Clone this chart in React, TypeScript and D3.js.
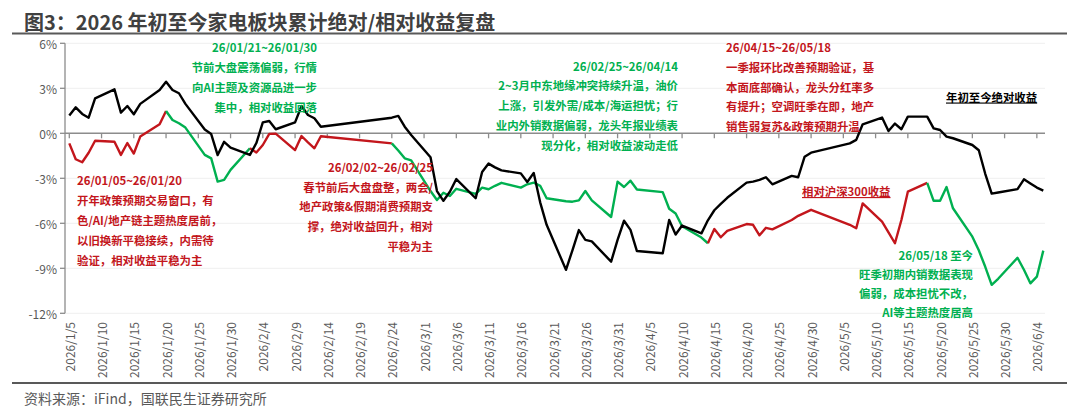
import React from 'react';
import * as d3 from 'd3';

const dates = [
  '2026-01-05','2026-01-06','2026-01-07','2026-01-08','2026-01-09','2026-01-12','2026-01-13','2026-01-14','2026-01-15','2026-01-16',
  '2026-01-19','2026-01-20','2026-01-21','2026-01-22','2026-01-23','2026-01-26','2026-01-27','2026-01-28','2026-01-29','2026-01-30',
  '2026-02-02','2026-02-03','2026-02-04','2026-02-05','2026-02-06','2026-02-09','2026-02-10','2026-02-11','2026-02-12','2026-02-13',
  '2026-02-24','2026-02-25','2026-02-26','2026-02-27',
  '2026-03-02','2026-03-03','2026-03-04','2026-03-05','2026-03-06','2026-03-09','2026-03-10','2026-03-11','2026-03-12','2026-03-13',
  '2026-03-16','2026-03-17','2026-03-18','2026-03-19','2026-03-20','2026-03-23','2026-03-24','2026-03-25','2026-03-26','2026-03-27',
  '2026-03-30','2026-03-31',
  '2026-04-01','2026-04-02','2026-04-03','2026-04-07','2026-04-08','2026-04-09','2026-04-10','2026-04-13','2026-04-14','2026-04-15',
  '2026-04-16','2026-04-17','2026-04-20','2026-04-21','2026-04-22','2026-04-23','2026-04-24','2026-04-27','2026-04-28','2026-04-29',
  '2026-04-30',
  '2026-05-06','2026-05-07','2026-05-08','2026-05-11','2026-05-12','2026-05-13','2026-05-14','2026-05-15','2026-05-18','2026-05-19',
  '2026-05-20','2026-05-21','2026-05-22','2026-05-25','2026-05-26','2026-05-27','2026-05-28','2026-05-29',
  '2026-06-01','2026-06-02','2026-06-03','2026-06-04','2026-06-05',
];

// 年初至今绝对收益 (%)
const absReturn = [
  1.18, 1.73, 1.29, 1.04, 2.33, 2.93, 1.38, 1.82, 1.27, 1.96,
  2.89, 3.44, 2.89, 2.67, 1.96, 0.25, -0.05, -1.45, -0.57, -0.96,
  -1.44, -0.65, 0.73, 0.82, 0.27, 0.73, 1.82, 1.22, 1.0, 0.44,
  1.04, 1.16, 0.44, -0.11,
  -1.6, -3.85, -4.5, -3.9, -3.05, -4.33, -2.58, -2.02, -2.27, -2.47,
  -2.67, -3.25, -2.64, -4.6, -6.1, -9.1, -7.8, -6.45, -7.1, -7.2,
  -8.56, -7.1,
  -5.83, -6.44, -7.85, -8.0, -5.78, -6.75, -6.15, -6.67, -5.8, -5.13,
  -4.7, -4.3, -3.29, -3.22, -3.11, -2.93, -3.4, -2.84, -2.93, -1.56,
  -1.29,
  -0.67, -0.44, 0.6, 1.05, 0.15, 0.65, 0.27, 1.11, 1.11, 0.33,
  0.22, -0.22, -0.33, -0.78, -1.13, -2.7, -4.02, -3.95,
  -3.72, -3.07, -3.35, -3.62, -3.82,
];

// 相对沪深300收益 (%)
const relReturn = [
  -0.67, -1.73, -1.93, -1.3, -0.5, -0.56, -1.44, -0.65, -1.35, -0.22,
  0.6, 1.49, 0.89, 0.67, 0.38, -1.44, -1.67, -3.22, -3.11, -2.44,
  -1.0, -1.28, -0.78, -0.04, -0.02, -1.12, -0.18, -0.6, -1.0, -0.2,
  -0.67, -1.15, -1.67, -1.8,
  -3.85, -4.45, -3.96, -4.18, -3.7, -4.04, -3.62, -3.73, -3.5, -3.3,
  -3.62, -3.4, -3.29, -3.5, -4.33, -4.53, -4.56, -4.47, -3.85, -4.47,
  -5.58, -3.22,
  -3.58, -3.16, -3.75, -3.92, -5.03, -5.35, -6.2, -6.95, -7.33, -6.38,
  -6.93, -6.5, -6.05, -6.1, -6.8, -6.3, -6.4, -5.78, -5.5, -5.3,
  -5.1,
  -6.1, -6.33, -4.67, -5.89, -6.6, -7.33, -5.78, -3.89, -3.31, -4.5,
  -4.5, -3.58, -5.0, -6.89, -7.8, -8.9, -10.1, -9.7,
  -8.3, -9.1, -10.0, -9.56, -7.82,
];

// phases of the relative-return line
const phaseStarts = ['2026-01-05', '2026-01-20', '2026-02-02', '2026-02-24', '2026-04-14', '2026-05-18'];
const phaseEnds = ['2026-01-20', '2026-02-02', '2026-02-24', '2026-04-14', '2026-05-18', '2026-06-05'];
const phaseKinds = ['rise', 'fall', 'rise', 'fall', 'rise', 'fall'];

const yTicks = [6, 3, 0, -3, -6, -9, -12];
const xStart = '2026-01-05';
const xEnd = '2026-06-05';

const title = '图3：2026 年初至今家电板块累计绝对/相对收益复盘';
const source = '资料来源：iFind，国联民生证券研究所';
const absLabel = '年初至今绝对收益';
const relLabel = '相对沪深300收益';

const note1 = ['26/01/21~26/01/30', '节前大盘震荡偏弱，行情', '向AI主题及资源品进一步', '集中，相对收益回落'];
const note2 = ['26/01/05~26/01/20', '开年政策预期交易窗口，有', '色/AI/地产链主题热度居前，', '以旧换新平稳接续，内需待', '验证，相对收益平稳为主'];
const note3 = ['26/02/02~26/02/25', '春节前后大盘盘整，两会/', '地产政策&假期消费预期支', '撑，绝对收益回升，相对', '平稳为主'];
const note4 = ['26/02/25~26/04/14', '2~3月中东地缘冲突持续升温，油价', '上涨，引发外需/成本/海运担忧；行', '业内外销数据偏弱，龙头年报业绩表', '现分化，相对收益波动走低'];
const note5 = ['26/04/15~26/05/18', '一季报环比改善预期验证，基', '本面底部确认，龙头分红率多', '有提升；空调旺季在即，地产', '销售弱复苏&政策预期升温'];
const note6 = ['26/05/18 至今', '旺季初期内销数据表现', '偏弱，成本担忧不改，', 'AI等主题热度居高'];

const W = 1080;
const H = 417;
const FONT = "'Noto Sans CJK SC', 'Noto Sans', sans-serif";
const RED = '#C3161C';
const GREEN = '#00B050';
const KIND_COLOR: Record<string, string> = { rise: RED, fall: GREEN };

const parse = d3.timeParse('%Y-%m-%d');
const fmt = d3.timeFormat('%Y/%-m/%-d');

function Note(props: { lines: string[]; x: number; y0: number; dy: number; anchor: 'start' | 'end'; color: string }) {
  const { lines, x, y0, dy, anchor, color } = props;
  return (
    <g fontFamily={FONT} fontWeight={700} fontSize={11.4} fill={color} textAnchor={anchor}>
      {lines.map((t, i) => (
        <text key={i} x={x} y={y0 + i * dy} dominantBaseline="central">{t}</text>
      ))}
    </g>
  );
}

export default function App() {
  const pts = dates.map((d, i) => ({ date: parse(d) as Date, abs: absReturn[i], rel: relReturn[i] }));
  const x = d3.scaleTime().domain([parse(xStart) as Date, parse(xEnd) as Date]).range([69.3, 1043.3]);
  const y = d3.scaleLinear().domain([-12, 6]).range([313.3, 43.3]);
  const left = 65;
  const right = 1045;

  const xTicks = d3.timeDay.range(parse(xStart) as Date, d3.timeDay.offset(parse(xEnd) as Date, 1), 5);

  const absLine = d3.line<typeof pts[0]>().x(p => x(p.date)).y(p => y(p.abs));
  const relLine = d3.line<typeof pts[0]>().x(p => x(p.date)).y(p => y(p.rel));

  const segments = phaseStarts.map((s, i) => {
    const a = (parse(s) as Date).getTime();
    const b = (parse(phaseEnds[i]) as Date).getTime();
    const sub = pts.filter(p => p.date.getTime() >= a && p.date.getTime() <= b);
    return { d: relLine(sub) || '', color: KIND_COLOR[phaseKinds[i]] };
  });

  return (
    <svg width={W} height={H} style={{ position: 'absolute', left: 0, top: 0, background: '#fff' }}>
      <rect x={0} y={0} width={W} height={H} fill="#fff" />
      {/* title */}
      <text x={24} y={21} fontFamily={FONT} fontWeight={700} fontSize={20} fill="#404040" dominantBaseline="central">{title}</text>
      <line x1={12} x2={1067} y1={33.5} y2={33.5} stroke="#595959" strokeWidth={2} />

      {/* gridlines */}
      {yTicks.filter(v => v !== 0).map(v => (
        <line key={v} x1={left} x2={right} y1={y(v)} y2={y(v)} stroke="#EFEFEF" strokeWidth={1} />
      ))}

      {/* y axis */}
      <line x1={left} x2={left} y1={y(6)} y2={y(-12)} stroke="#8C8C8C" strokeWidth={1.3} />
      {yTicks.map(v => (
        <g key={v}>
          <line x1={left - 5} x2={left} y1={y(v)} y2={y(v)} stroke="#8C8C8C" strokeWidth={1.3} />
          <text x={57} y={y(v)} textAnchor="end" dominantBaseline="central" fontFamily={FONT} fontSize={12} fill="#595959">
            {`${v}%`}
          </text>
        </g>
      ))}

      {/* x axis at 0% */}
      <line x1={left} x2={right} y1={y(0)} y2={y(0)} stroke="#8C8C8C" strokeWidth={1.5} />
      {xTicks.map(t => (
        <g key={t.getTime()}>
          <line x1={x(t)} x2={x(t)} y1={y(0)} y2={y(0) + 5} stroke="#8C8C8C" strokeWidth={1.3} />
          <text
            transform={`translate(${x(t)},322) rotate(-90)`}
            textAnchor="end"
            dominantBaseline="central"
            fontFamily={FONT}
            fontSize={12}
            fill="#595959"
          >
            {fmt(t)}
          </text>
        </g>
      ))}

      {/* relative line */}
      {segments.map((s, i) => (
        <path key={i} d={s.d} fill="none" stroke={s.color} strokeWidth={2.4} strokeLinejoin="round" />
      ))}
      {/* absolute line */}
      <path d={absLine(pts) || ''} fill="none" stroke="#000" strokeWidth={2.4} strokeLinejoin="round" />

      {/* annotations */}
      <Note lines={note1} x={317} y0={46.5} dy={20} anchor="end" color={GREEN} />
      <Note lines={note2} x={77} y0={180} dy={20} anchor="start" color={RED} />
      <Note lines={note3} x={433} y0={167} dy={19.7} anchor="end" color={RED} />
      <Note lines={note4} x={678} y0={65.5} dy={19.8} anchor="end" color={GREEN} />
      <Note lines={note5} x={726} y0={47} dy={19.8} anchor="start" color={RED} />
      <Note lines={note6} x={973} y0={255} dy={19} anchor="end" color={GREEN} />

      <text x={946} y={96.5} fontFamily={FONT} fontWeight={700} fontSize={11.4} fill="#000" dominantBaseline="central" style={{ textDecoration: 'underline' }}>{absLabel}</text>
      <text x={802} y={191} fontFamily={FONT} fontWeight={700} fontSize={11.4} fill={RED} dominantBaseline="central" style={{ textDecoration: 'underline' }}>{relLabel}</text>

      {/* footer */}
      <line x1={12} x2={1067} y1={383} y2={383} stroke="#595959" strokeWidth={2} />
      <text x={24} y={397.5} fontFamily={FONT} fontSize={14} fill="#595959" dominantBaseline="central">{source}</text>
    </svg>
  );
}
